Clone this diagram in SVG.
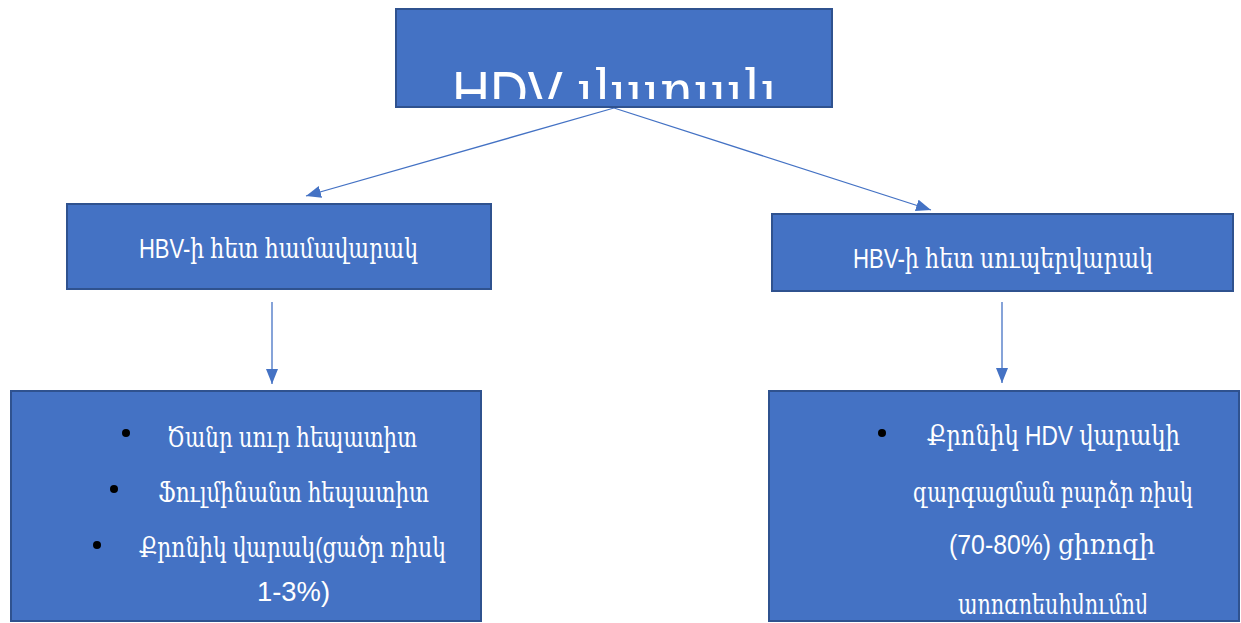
<svg xmlns="http://www.w3.org/2000/svg" width="1241" height="623" viewBox="0 0 1241 623">
<style>
.box{fill:#4472C4;stroke:#2F528F;stroke-width:2}
.t{fill:#FFFFFF;font-family:"Liberation Sans","DejaVu Serif",serif}
.conn{stroke:#4472C4;stroke-width:1.3;fill:none;marker-end:url(#arr)}
.dot{fill:#000000}
</style>
<defs>
<marker id="arr" viewBox="0 0 10 10" refX="10" refY="5" markerWidth="15" markerHeight="12" markerUnits="userSpaceOnUse" orient="auto" preserveAspectRatio="none">
<path d="M0,0 L10,5 L0,10 z" fill="#4472C4"/>
</marker>
<clipPath id="clipTop"><rect x="397" y="10" width="434" height="89"/></clipPath>
<clipPath id="clipBR"><rect x="770" y="392" width="468" height="222"/></clipPath>
</defs>
<rect width="1241" height="623" fill="#FFFFFF"/>
<g id="connectors">
<line class="conn" x1="614" y1="108" x2="306" y2="196"/>
<line class="conn" x1="614" y1="108" x2="931" y2="210"/>
<line class="conn" x1="272" y1="302" x2="272" y2="384"/>
<line class="conn" x1="1002" y1="302" x2="1002" y2="383"/>
</g>
<g id="node-top">
<rect class="box" x="396" y="9" width="436" height="98"/>
<text class="t" x="452" y="113" font-size="60" textLength="325" lengthAdjust="spacingAndGlyphs" clip-path="url(#clipTop)">HDV վարակ</text>
</g>
<g id="node-left">
<rect class="box" x="67" y="204" width="424" height="85"/>
<text class="t" x="139" y="258" font-size="28" textLength="279" lengthAdjust="spacingAndGlyphs">HBV-ի հետ համավարակ</text>
</g>
<g id="node-right">
<rect class="box" x="772" y="214" width="461" height="77"/>
<text class="t" x="853" y="268" font-size="28" textLength="300" lengthAdjust="spacingAndGlyphs">HBV-ի հետ սուպերվարակ</text>
</g>
<g id="node-left-bottom">
<rect class="box" x="11" y="391" width="470" height="230"/>
<circle class="dot" cx="126" cy="433" r="4"/>
<text class="t" x="167" y="447" font-size="28" textLength="250" lengthAdjust="spacingAndGlyphs">Ծանր սուր հեպատիտ</text>
<circle class="dot" cx="114" cy="489" r="4"/>
<text class="t" x="158" y="502" font-size="28" textLength="271" lengthAdjust="spacingAndGlyphs">Ֆուլմինանտ հեպատիտ</text>
<circle class="dot" cx="97" cy="545" r="4"/>
<text class="t" x="139" y="557" font-size="28" textLength="307" lengthAdjust="spacingAndGlyphs">Քրոնիկ վարակ(ցածր ռիսկ</text>
<text class="t" x="257" y="601" font-size="28" textLength="73" lengthAdjust="spacingAndGlyphs">1-3%)</text>
</g>
<g id="node-right-bottom">
<rect class="box" x="769" y="391" width="470" height="230"/>
<circle class="dot" cx="882" cy="433" r="4"/>
<text class="t" x="927" y="445" font-size="28" textLength="253" lengthAdjust="spacingAndGlyphs">Քրոնիկ HDV վարակի</text>
<text class="t" x="913" y="502" font-size="28" textLength="280" lengthAdjust="spacingAndGlyphs">զարգացման բարձր ռիսկ</text>
<text class="t" x="949" y="554" font-size="28" textLength="206" lengthAdjust="spacingAndGlyphs">(70-80%) ցիռոզի</text>
<text class="t" x="958" y="614" font-size="28" textLength="190" lengthAdjust="spacingAndGlyphs" clip-path="url(#clipBR)">պրոգրեսիվումով</text>
</g>
</svg>
